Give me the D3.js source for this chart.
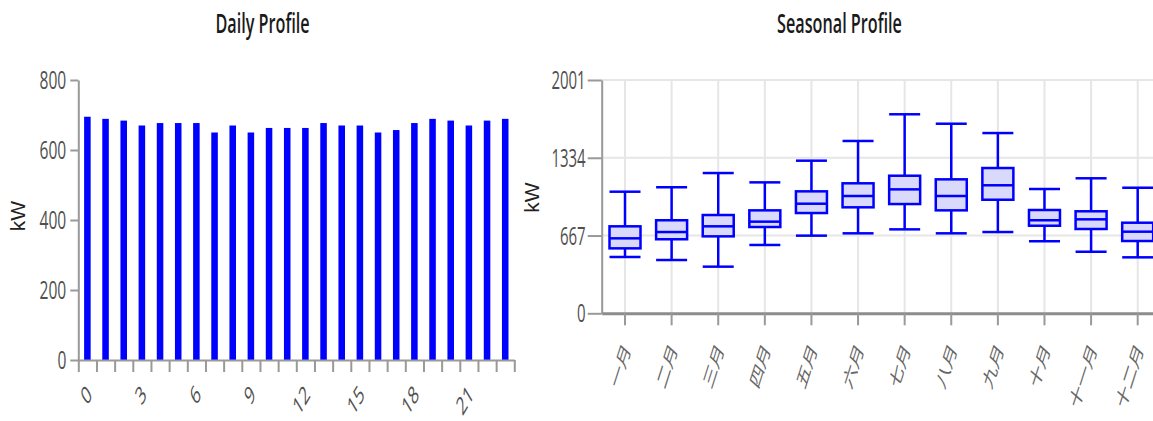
<!DOCTYPE html>
<html>
<head>
<meta charset="utf-8">
<script src="https://cdn.jsdelivr.net/npm/d3@7"></script>
<style>
  body { margin: 0; background: #fff; }
  svg { display: block; }
</style>
</head>
<body>
<svg id="chart" width="1153" height="421"></svg>
<script>
// ---- Daily profile: average load per hour of day ----
const hours = [0, 1, 2, 3, 4, 5, 6, 7, 8, 9, 10, 11, 12, 13, 14, 15, 16, 17, 18, 19, 20, 21, 22, 23];
const hourlyKW = [695, 689, 684, 670, 677, 677, 677, 650, 670, 650, 663, 663,
                  663, 677, 670, 670, 650, 657, 677, 689, 684, 670, 684, 689];
const hourTickLabels = [0, 3, 6, 9, 12, 15, 18, 21];
const dailyTicks = [0, 200, 400, 600, 800];

// ---- Seasonal profile: monthly load distribution ----
const months = ["一月", "二月", "三月", "四月", "五月", "六月", "七月", "八月", "九月", "十月", "十一月", "十二月"];
const whiskerLow  = [483, 457, 400, 586, 666, 686, 720, 686, 697, 618, 528, 480];
const quartile1   = [557, 635, 660, 740, 860, 909, 937, 883, 974, 751, 723, 620];
const medians     = [643, 697, 746, 786, 940, 1006, 1063, 1006, 1098, 798, 806, 700];
const quartile3   = [746, 798, 843, 883, 1046, 1115, 1180, 1149, 1246, 886, 875, 777];
const whiskerHigh = [1043, 1081, 1203, 1123, 1309, 1478, 1707, 1626, 1546, 1066, 1158, 1077];
const seasonalTicks = [0, 667, 1334, 2001];

const svg = d3.select("#chart");
const LATIN = "'Open Sans', 'Noto Sans', sans-serif";
const CJK = "'Noto Sans CJK SC', sans-serif";
const SQUEEZE = 0.6;   // narrow typeface look

function label(g, text, x, y, opts = {}) {
  const rot = opts.rotate ? ` rotate(${opts.rotate})` : "";
  return g.append("text")
    .attr("transform", `translate(${x},${y}) scale(${opts.sx ?? SQUEEZE},1)${rot}`)
    .attr("text-anchor", opts.anchor || "middle")
    .attr("dy", opts.dy || "0")
    .attr("font-family", opts.family || LATIN)
    .attr("font-size", opts.size || 26)
    .attr("font-weight", opts.weight || 400)
    .attr("fill", opts.fill || "#505050")
    .text(text);
}

// =================== Daily Profile ===================
{
  const left = 78.3, right = 514.3, top = 80, bottom = 360;
  const g = svg.append("g");

  const y = d3.scaleLinear().domain([0, 800]).range([bottom, top]);
  const xBand = d3.scaleBand().domain(hours).range([left, right]).padding(0);
  const xEdge = d3.scaleLinear().domain([0, hours.length]).range([left, right]);

  // bars
  const barW = xBand.bandwidth() * 0.36;
  g.append("g").selectAll("rect").data(hours).join("rect")
    .attr("x", h => xBand(h) + xBand.bandwidth() / 2 - barW / 2)
    .attr("width", barW)
    .attr("y", (h, i) => y(hourlyKW[i]))
    .attr("height", (h, i) => y(0) - y(hourlyKW[i]))
    .attr("fill", "#0000ff");

  // y axis
  const yAxis = g.append("g").attr("transform", `translate(${left},0)`)
    .call(d3.axisLeft(y).tickValues(dailyTicks).tickSize(8).tickSizeOuter(0).tickFormat(""));
  yAxis.selectAll("path, line").attr("stroke", "#999").attr("stroke-width", 2);
  dailyTicks.forEach(v => label(g, v, left - 12, y(v), { anchor: "end", dy: "0.36em", size: 26 }));

  // x axis: ticks on band edges
  const xAxis = g.append("g").attr("transform", `translate(0,${bottom})`)
    .call(d3.axisBottom(xEdge).tickValues(d3.range(hours.length + 1)).tickSize(12).tickSizeOuter(0).tickFormat(""));
  xAxis.selectAll("path, line").attr("stroke", "#999").attr("stroke-width", 2);
  hourTickLabels.forEach(h => {
    label(g, h, xBand(h) + xBand.bandwidth() / 2 + 2, 390, { anchor: "end", dy: "0.35em", rotate: -45, size: 25 });
  });

  // axis title & chart title
  g.append("text")
    .attr("transform", `translate(25,${(top + bottom) / 2 - 4}) rotate(-90)`)
    .attr("text-anchor", "middle")
    .attr("font-family", "'Liberation Sans', Arial, sans-serif")
    .attr("font-size", 21).attr("fill", "#222").text("kW");
  label(g, "Daily Profile", 262.5, 33, { size: 27, weight: 600, fill: "#1a1a1a" });
}

// =================== Seasonal Profile ===================
{
  const left = 601.7, right = 1161, top = 80, bottom = 313.3;
  const g = svg.append("g");

  const y = d3.scaleLinear().domain([0, 2001]).range([bottom, top]);
  const x = d3.scaleBand().domain(months).range([left, right]).padding(0);
  const cx = m => x(m) + x.bandwidth() / 2;

  // grid
  const grid = g.append("g").attr("stroke", "#e6e6e6").attr("stroke-width", 2);
  grid.selectAll("line.h").data(seasonalTicks.filter(v => v > 0)).join("line")
    .attr("class", "h").attr("x1", left).attr("x2", 1153).attr("y1", d => y(d)).attr("y2", d => y(d));
  grid.selectAll("line.v").data(months).join("line")
    .attr("class", "v").attr("x1", cx).attr("x2", cx).attr("y1", top).attr("y2", bottom);

  // y axis
  const yAxis = g.append("g").attr("transform", `translate(${left},0)`)
    .call(d3.axisLeft(y).tickValues(seasonalTicks).tickSize(14).tickSizeOuter(0).tickFormat(""));
  yAxis.selectAll("path, line").attr("stroke", "#999").attr("stroke-width", 2);
  seasonalTicks.forEach(v => label(g, v, left - 16, y(v), { anchor: "end", dy: "0.36em", size: 25 }));

  // x axis
  const xAxis = g.append("g").attr("transform", `translate(0,${bottom})`)
    .call(d3.axisBottom(x).tickSize(12).tickSizeOuter(0).tickFormat(""));
  xAxis.select(".domain").attr("stroke", "#8c8c8c").attr("stroke-width", 3);
  xAxis.selectAll(".tick line").attr("stroke", "#999").attr("stroke-width", 2);
  months.forEach(m => {
    label(g, m, cx(m) + 2, 346, { anchor: "end", dy: "0.35em", rotate: -62, size: 23, family: CJK, fill: "#666" });
  });

  // box plots
  const boxW = 31;
  const boxes = g.append("g").selectAll("g").data(months).join("g")
    .attr("fill", "none").attr("stroke", "#0000ff").attr("stroke-width", 2.5);
  boxes.append("line")   // whisker
    .attr("x1", cx).attr("x2", cx)
    .attr("y1", (m, i) => y(whiskerHigh[i])).attr("y2", (m, i) => y(whiskerLow[i]));
  boxes.append("line")   // upper cap
    .attr("x1", m => cx(m) - boxW / 2).attr("x2", m => cx(m) + boxW / 2)
    .attr("y1", (m, i) => y(whiskerHigh[i])).attr("y2", (m, i) => y(whiskerHigh[i]));
  boxes.append("line")   // lower cap
    .attr("x1", m => cx(m) - boxW / 2).attr("x2", m => cx(m) + boxW / 2)
    .attr("y1", (m, i) => y(whiskerLow[i])).attr("y2", (m, i) => y(whiskerLow[i]));
  boxes.append("rect")
    .attr("x", m => cx(m) - boxW / 2).attr("width", boxW)
    .attr("y", (m, i) => y(quartile3[i]))
    .attr("height", (m, i) => y(quartile1[i]) - y(quartile3[i]))
    .attr("fill", "#d9d9fb");
  boxes.append("line")   // median
    .attr("x1", m => cx(m) - boxW / 2).attr("x2", m => cx(m) + boxW / 2)
    .attr("y1", (m, i) => y(medians[i])).attr("y2", (m, i) => y(medians[i]));

  g.append("text")
    .attr("transform", `translate(539,${(top + bottom) / 2 + 1}) rotate(-90)`)
    .attr("text-anchor", "middle")
    .attr("font-family", "'Liberation Sans', Arial, sans-serif")
    .attr("font-size", 21).attr("fill", "#222").text("kW");
  label(g, "Seasonal Profile", 839.5, 33, { size: 27, weight: 600, fill: "#1a1a1a" });
}
</script>
</body>
</html>
